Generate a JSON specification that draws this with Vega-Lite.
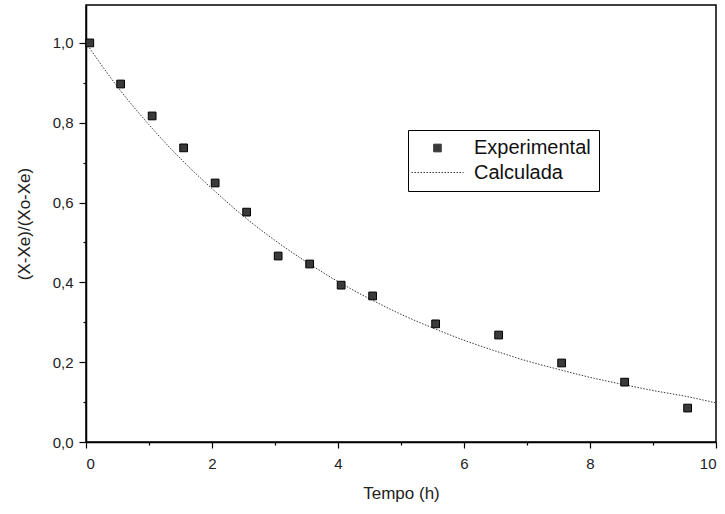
{
  "$schema": "https://vega.github.io/schema/vega-lite/v6.json",
  "width": 630,
  "height": 437,
  "autosize": "none",
  "padding": {"left": 86, "top": 5, "right": 9, "bottom": 72},
  "background": "white",
  "config": {
    "font": "Liberation Sans",
    "view": {"stroke": "black", "strokeWidth": 1.5},
    "axis": {"grid": false, "domainColor": "black", "domainWidth": 1.5, "tickColor": "black", "tickWidth": 1.2, "labelColor": "#222", "titleColor": "#222", "labelFontSize": 15, "titleFontSize": 17, "titleFontWeight": "normal"},
    "legend": {"orient": "none", "legendX": 322, "legendY": 125, "strokeColor": "black", "fillColor": "white", "padding": 8, "labelFontSize": 20, "labelColor": "#111", "labelOffset": 26, "symbolOffset": 11, "rowPadding": 4, "symbolStrokeColor": "black", "symbolStrokeWidth": 1, "title": null}
  },
  "datasets": {
    "exp": [
      {"t": 0.06, "v": 1.0, "serie": "Experimental"},
      {"t": 0.55, "v": 0.897, "serie": "Experimental"},
      {"t": 1.05, "v": 0.817, "serie": "Experimental"},
      {"t": 1.55, "v": 0.737, "serie": "Experimental"},
      {"t": 2.05, "v": 0.649, "serie": "Experimental"},
      {"t": 2.55, "v": 0.576, "serie": "Experimental"},
      {"t": 3.05, "v": 0.466, "serie": "Experimental"},
      {"t": 3.55, "v": 0.446, "serie": "Experimental"},
      {"t": 4.05, "v": 0.393, "serie": "Experimental"},
      {"t": 4.55, "v": 0.366, "serie": "Experimental"},
      {"t": 5.55, "v": 0.296, "serie": "Experimental"},
      {"t": 6.55, "v": 0.268, "serie": "Experimental"},
      {"t": 7.55, "v": 0.198, "serie": "Experimental"},
      {"t": 8.55, "v": 0.15, "serie": "Experimental"},
      {"t": 9.55, "v": 0.085, "serie": "Experimental"}
    ],
    "calc": [
      {"t": 0, "v": 1.0, "serie": "Calculada"},
      {"t": 0.5, "v": 0.89, "serie": "Calculada"},
      {"t": 1, "v": 0.795, "serie": "Calculada"},
      {"t": 1.5, "v": 0.71, "serie": "Calculada"},
      {"t": 2, "v": 0.635, "serie": "Calculada"},
      {"t": 2.5, "v": 0.566, "serie": "Calculada"},
      {"t": 3, "v": 0.505, "serie": "Calculada"},
      {"t": 3.5, "v": 0.451, "serie": "Calculada"},
      {"t": 4, "v": 0.402, "serie": "Calculada"},
      {"t": 4.5, "v": 0.359, "serie": "Calculada"},
      {"t": 5, "v": 0.32, "serie": "Calculada"},
      {"t": 5.5, "v": 0.286, "serie": "Calculada"},
      {"t": 6, "v": 0.255, "serie": "Calculada"},
      {"t": 6.5, "v": 0.228, "serie": "Calculada"},
      {"t": 7, "v": 0.203, "serie": "Calculada"},
      {"t": 7.5, "v": 0.182, "serie": "Calculada"},
      {"t": 8, "v": 0.162, "serie": "Calculada"},
      {"t": 8.5, "v": 0.145, "serie": "Calculada"},
      {"t": 9, "v": 0.129, "serie": "Calculada"},
      {"t": 9.5, "v": 0.115, "serie": "Calculada"},
      {"t": 10, "v": 0.098, "serie": "Calculada"}
    ]
  },
  "encoding": {
    "x": {"field": "t", "type": "quantitative", "scale": {"domain": [0, 10], "nice": false}, "axis": {"title": "Tempo (h)", "titlePadding": 14, "values": [0,1,2,3,4,5,6,7,8,9,10], "labelExpr": "datum.value % 2 === 0 ? datum.label : ''", "tickSize": {"condition": {"test": "datum.value % 2 !== 0", "value": 3}, "value": 6}, "labelPadding": 8}},
    "y": {"field": "v", "type": "quantitative", "scale": {"domain": [0, 1.095], "nice": false}, "axis": {"title": "(X-Xe)/(Xo-Xe)", "titlePadding": 19, "values": [0,0.1,0.2,0.3,0.4,0.5,0.6,0.7,0.8,0.9,1.0], "labelExpr": "(round(datum.value*10) % 2 === 0) ? replace(format(datum.value, '.1f'), '.', ',') : ''", "tickSize": {"condition": {"test": "round(datum.value*10) % 2 !== 0", "value": 3}, "value": 7}, "labelPadding": 6}}
  },
  "layer": [
    {
      "data": {"name": "calc"},
      "mark": {"type": "line", "strokeWidth": 1, "interpolate": "monotone"},
      "encoding": {
        "color": {"field": "serie", "type": "nominal", "scale": {"domain": ["Experimental", "Calculada"], "range": ["#3a3a3a", "#3a3a3a"]}},
        "strokeDash": {"field": "serie", "type": "nominal", "scale": {"domain": ["Experimental", "Calculada"], "range": [[1, 0], [1.5, 1.5]]}}
      }
    },
    {
      "data": {"name": "exp"},
      "mark": {"type": "point", "filled": true, "opacity": 1, "stroke": "black", "strokeWidth": 1},
      "encoding": {
        "color": {"field": "serie", "type": "nominal"},
        "shape": {"field": "serie", "type": "nominal", "scale": {"domain": ["Experimental", "Calculada"], "range": ["square", "M-2.6,0H2.6"]}},
        "size": {"field": "serie", "type": "nominal", "scale": {"type": "ordinal", "domain": ["Experimental", "Calculada"], "range": [60, 400]}}
      }
    }
  ]
}
